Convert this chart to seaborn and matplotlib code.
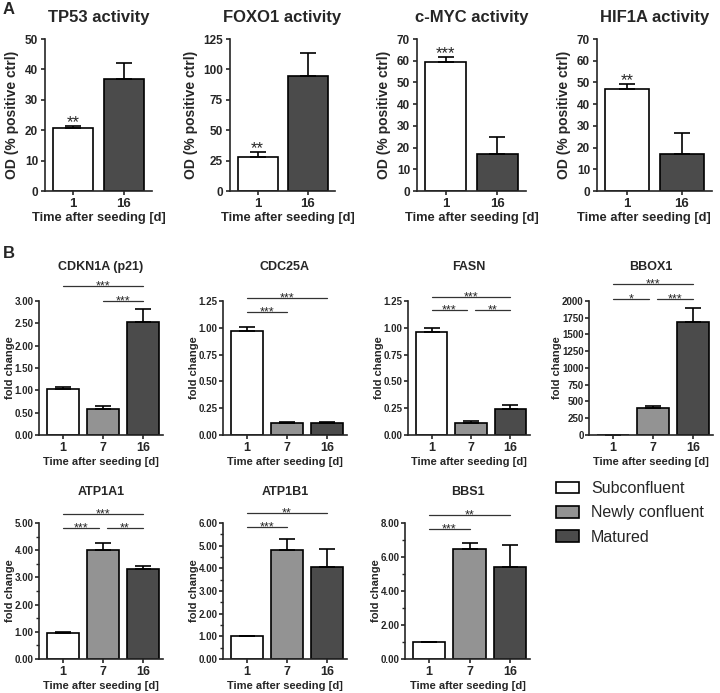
import numpy as np
import pandas as pd
import seaborn as sns
import matplotlib.pyplot as plt
from matplotlib.patches import Patch
from matplotlib.ticker import MultipleLocator, FormatStrFormatter

# ---- data: panel A (OD, % positive ctrl), days 1 and 16
days_a = ['1', '16']
tp53_mean = [20.8, 36.8]
tp53_err = [0.6, 5.3]
foxo1_mean = [28.3, 94.2]
foxo1_err = [4.1, 19.2]
myc_mean = [59.3, 16.9]
myc_err = [2.5, 8.0]
hif1a_mean = [47.0, 16.9]
hif1a_err = [2.2, 9.7]
a_stars = ['**', '**', '***', '**']

# ---- data: panel B (fold change), days 1, 7 and 16
days_b = ['1', '7', '16']
cdkn1a_mean = [1.02, 0.58, 2.54]
cdkn1a_err = [0.05, 0.08, 0.29]
cdc25a_mean = [0.97, 0.115, 0.115]
cdc25a_err = [0.035, 0.01, 0.008]
fasn_mean = [0.965, 0.115, 0.245]
fasn_err = [0.035, 0.012, 0.033]
bbox1_mean = [1, 400, 1690]
bbox1_err = [0, 30, 210]
atp1a1_mean = [0.95, 4.01, 3.32]
atp1a1_err = [0.06, 0.25, 0.11]
atp1b1_mean = [1.0, 4.80, 4.07]
atp1b1_err = [0.01, 0.50, 0.80]
bbs1_mean = [1.0, 6.47, 5.40]
bbs1_err = [0.01, 0.38, 1.32]

cdkn1a_sig = [(0, 2, '***'), (1, 2, '***')]
cdc25a_sig = [(0, 2, '***'), (0, 1, '***')]
fasn_sig = [(0, 2, '***'), (0, 1, '***'), (1, 2, '**')]
bbox1_sig = [(0, 2, '***'), (0, 1, '*'), (1, 2, '***')]
atp1a1_sig = [(0, 2, '***'), (0, 1, '***'), (1, 2, '**')]
atp1b1_sig = [(0, 2, '**'), (0, 1, '***')]
bbs1_sig = [(0, 2, '**'), (0, 1, '***')]

groups = ['Subconfluent', 'Newly confluent', 'Matured']

colors = {'1': 'white', '7': '#939393', '16': '#4b4b4b'}

sns.set_style('ticks')
plt.rcParams['font.family'] = ['Liberation Sans', 'DejaVu Sans']
plt.rcParams['axes.linewidth'] = 1.2
plt.rcParams['xtick.major.width'] = 1.2
plt.rcParams['ytick.major.width'] = 1.2
plt.rcParams['ytick.minor.width'] = 1.0
plt.rcParams['xtick.major.size'] = 3
plt.rcParams['ytick.major.size'] = 3
plt.rcParams['ytick.minor.size'] = 2

W, H = 720, 693
fig = plt.figure(figsize=(W / 100, H / 100), dpi=100)


def px_axes(x0, y0, x1, y1):
    return fig.add_axes([x0 / W, 1 - y1 / H, (x1 - x0) / W, (y1 - y0) / H])


def draw_bars(ax, days, means, errs):
    df = pd.DataFrame({'day': days, 'value': means})
    sns.barplot(data=df, x='day', y='value', hue='day', order=days,
                hue_order=days, palette=colors, edgecolor='black',
                linewidth=1.2, width=0.8, errorbar=None, legend=False, ax=ax)
    ax.errorbar(np.arange(len(days)), means,
                yerr=[np.zeros(len(days)), errs], fmt='none',
                ecolor='black', elinewidth=1.2, capsize=6, capthick=1.2)
    sns.despine(ax=ax)


def draw_sig(ax, pairs, heights):
    idx = [(i, j) for i, j, _ in pairs]
    has_both = (0, 1) in idx and (1, 2) in idx
    for i, j, lab in pairs:
        h = heights[1] if j - i == 2 else heights[0]
        x0, x1 = i, j
        if has_both and j - i == 1:
            if i == 0:
                x1 -= 0.1
            else:
                x0 += 0.1
        ax.plot([x0, x1], [h, h], color='#333333', lw=0.9,
                transform=ax.get_xaxis_transform(), clip_on=False)
        ax.annotate(lab, xy=((x0 + x1) / 2, h),
                    xycoords=ax.get_xaxis_transform(), xytext=(0, -2.5),
                    textcoords='offset points', ha='center', va='baseline',
                    fontsize=9, annotation_clip=False)


# ---- panel A
a_panels = [
    ('TP53 activity', tp53_mean, tp53_err, 50, 10, (45, 152), 0.5),
    ('FOXO1 activity', foxo1_mean, foxo1_err, 125, 25, (230, 335), 0.55),
    ('c-MYC activity', myc_mean, myc_err, 70, 10, (417, 526), 0.5),
    ('HIF1A activity', hif1a_mean, hif1a_err, 70, 10, (597, 712), 0.41),
]
for k, (title, m, e, ymax, step, (xl, xr), xlab_c) in enumerate(a_panels):
    ax = px_axes(xl, 39, xr, 191)
    draw_bars(ax, days_a, m, e)
    ax.set_xlim(-0.55, 1.55)
    ax.set_ylim(0, ymax)
    ax.yaxis.set_major_locator(MultipleLocator(step))
    ax.set_title(title, fontsize=12, fontweight='bold', pad=12)
    ax.set_ylabel('OD (% positive ctrl)', fontsize=10, fontweight='bold')
    ax.set_xlabel('Time after seeding [d]', fontsize=9.3, fontweight='bold',
                  labelpad=3)
    ax.xaxis.set_label_coords(xlab_c, -0.135)
    ax.xaxis.label.set_va('top')
    ax.tick_params(axis='y', labelsize=8.5, pad=2)
    ax.tick_params(axis='x', labelsize=9.5, pad=2)
    for t in ax.get_xticklabels() + ax.get_yticklabels():
        t.set_fontweight('bold')
    ax.annotate(a_stars[k], xy=(0, m[0] + e[0]), xytext=(0, -1),
                textcoords='offset points', ha='center', va='baseline',
                fontsize=12)

# ---- panel B
b_panels = [
    ('CDKN1A (p21)', cdkn1a_mean, cdkn1a_err, cdkn1a_sig, 3.0, 0.5, None,
     '%.2f', (39, 301, 163, 435), (1.0, 1.112)),
    ('CDC25A', cdc25a_mean, cdc25a_err, cdc25a_sig, 1.25, 0.25, None,
     '%.2f', (223, 301, 347, 435), (0.919, 1.022)),
    ('FASN', fasn_mean, fasn_err, fasn_sig, 1.25, 0.25, None,
     '%.2f', (408, 301, 530, 435), (0.933, 1.03)),
    ('BBOX1', bbox1_mean, bbox1_err, bbox1_sig, 2000, 250, None,
     '%d', (589, 301, 713, 435), (1.015, 1.127)),
    ('ATP1A1', atp1a1_mean, atp1a1_err, atp1a1_sig, 5.0, 1.0, 0.5,
     '%.2f', (39, 523, 163, 659), (0.963, 1.066)),
    ('ATP1B1', atp1b1_mean, atp1b1_err, atp1b1_sig, 6.0, 1.0, 0.5,
     '%.2f', (223, 523, 347, 659), (0.971, 1.074)),
    ('BBS1', bbs1_mean, bbs1_err, bbs1_sig, 8.0, 2.0, 1.0,
     '%.2f', (405, 523, 530, 659), (0.956, 1.059)),
]
for title, m, e, sig, ymax, step, minor, fmt, box, hts in b_panels:
    ax = px_axes(*box)
    draw_bars(ax, days_b, m, e)
    ax.set_xlim(-0.6, 2.5)
    ax.set_ylim(0, ymax)
    ax.yaxis.set_major_locator(MultipleLocator(step))
    if minor:
        ax.yaxis.set_minor_locator(MultipleLocator(minor))
    ax.yaxis.set_major_formatter(FormatStrFormatter(fmt))
    ax.set_title(title, fontsize=9, fontweight='bold',
                 pad=22 if box[1] < 400 else 20)
    ax.set_ylabel('fold change', fontsize=8, fontweight='bold', labelpad=0)
    ax.set_xlabel('Time after seeding [d]', fontsize=8, fontweight='bold',
                  labelpad=2)
    ax.tick_params(axis='y', labelsize=7, pad=0.8)
    ax.tick_params(axis='x', labelsize=9, pad=2)
    for t in ax.get_xticklabels() + ax.get_yticklabels():
        t.set_fontweight('bold')
    draw_sig(ax, sig, hts)

fig.text(9 / W, 1 - 9 / H, 'A', fontsize=12, fontweight='bold',
         ha='center', va='center')
fig.text(9 / W, 1 - 254 / H, 'B', fontsize=12, fontweight='bold',
         ha='center', va='center')

handles = [Patch(facecolor=colors[d], edgecolor='black', linewidth=1.2)
           for d in days_b]
fig.legend(handles, groups, loc='upper left',
           bbox_to_anchor=(556 / W, 1 - 481 / H), frameon=False,
           fontsize=11.5, handlelength=1.45, handleheight=0.75,
           handletextpad=0.75, labelspacing=0.58, borderpad=0,
           borderaxespad=0)

fig.savefig('out.png', dpi=100)
